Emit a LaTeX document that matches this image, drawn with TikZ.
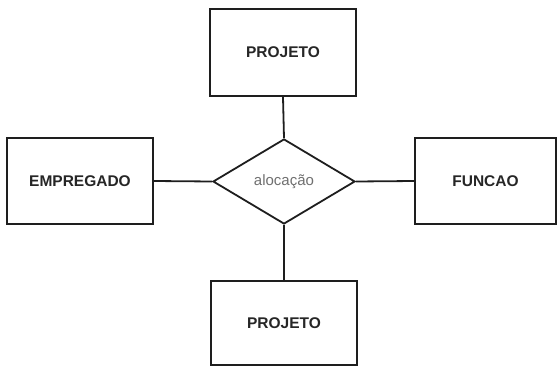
\documentclass[tikz,border=0pt]{standalone}
\usepackage{fontspec}
\setmainfont{Liberation Sans}
\usetikzlibrary{shapes.geometric}
\definecolor{edge}{HTML}{1E1E1E}
\definecolor{labelgray}{HTML}{707070}
\tikzset{
  entity/.style={draw=edge, line width=1.8pt, fill=white, rectangle, inner sep=0pt,
    font=\fontsize{15.5}{18}\selectfont\bfseries, text=black!85},
  relation/.style={draw=edge, line width=1.8pt, fill=white, diamond, inner sep=0pt,
    aspect=1.67, minimum width=142pt, minimum height=85pt,
    font=\fontsize{15}{18}\selectfont, text=labelgray},
  link/.style={draw=edge, line width=1.8pt}
}
\begin{document}
\begin{tikzpicture}[x=1pt,y=-1pt]
\useasboundingbox (0,0) rectangle (558,367);
\node[entity, minimum width=146pt, minimum height=87pt] (ptop) at (283,52.5) {PROJETO};
\node[entity, minimum width=146pt, minimum height=86pt] (emp) at (80,181) {EMPREGADO};
\node[entity, minimum width=141pt, minimum height=86pt] (func) at (485.5,181) {FUNCAO};
\node[entity, minimum width=146pt, minimum height=84pt] (pbot) at (284,323) {PROJETO};
\node[relation] (aloc) at (284,181.5) {alocação};
\draw[link] (ptop.south) -- (aloc.north);
\draw[link] (aloc.west) -- (emp.east);
\draw[link] (aloc.east) -- (func.west);
\draw[link] (aloc.south) -- (pbot.north);
\end{tikzpicture}
\end{document}
